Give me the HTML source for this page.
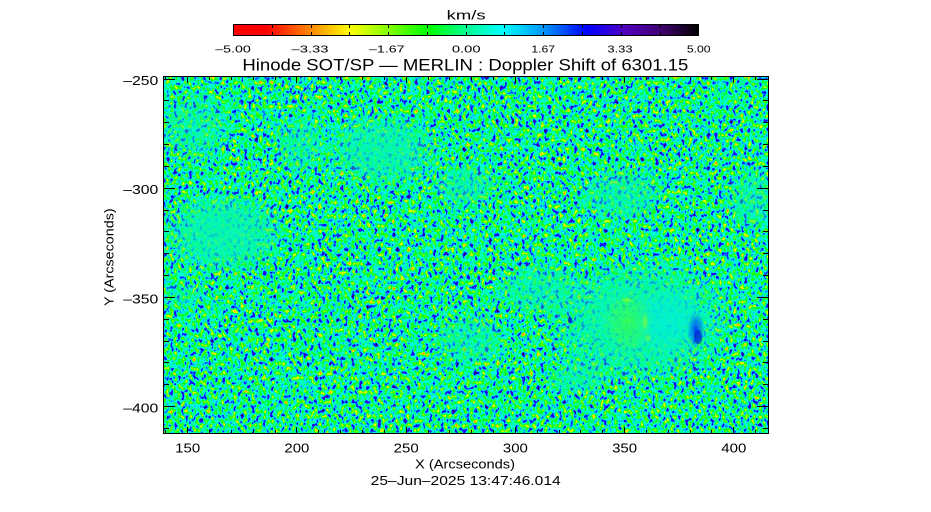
<!DOCTYPE html>
<html><head><meta charset="utf-8"><style>html,body{margin:0;padding:0;background:#fff}svg{display:block}</style></head>
<body>
<svg width="931" height="512" viewBox="0 0 931 512" xmlns="http://www.w3.org/2000/svg" font-family="'Liberation Sans', sans-serif">
<defs>
  <linearGradient id="cb" x1="0" x2="1" y1="0" y2="0">
    <stop offset="0" stop-color="#ff0000"/>
    <stop offset="0.07" stop-color="#ff0000"/>
    <stop offset="0.16" stop-color="#ff8000"/>
    <stop offset="0.25" stop-color="#ffff00"/>
    <stop offset="0.42" stop-color="#00ff00"/>
    <stop offset="0.50" stop-color="#00ff90"/>
    <stop offset="0.58" stop-color="#00ffff"/>
    <stop offset="0.67" stop-color="#0090ff"/>
    <stop offset="0.76" stop-color="#0000ff"/>
    <stop offset="0.84" stop-color="#5000c0"/>
    <stop offset="0.92" stop-color="#400070"/>
    <stop offset="1" stop-color="#000000"/>
  </linearGradient>
  <filter id="nz" filterUnits="userSpaceOnUse" x="163" y="76" width="606" height="358" color-interpolation-filters="sRGB">
    <feTurbulence type="fractalNoise" baseFrequency="0.27 0.21" numOctaves="2" seed="7" result="t"/>
    <feColorMatrix in="t" type="matrix" values="1.4 0 0 0 -0.19  1.4 0 0 0 -0.19  1.4 0 0 0 -0.19  0 0 0 0 1" result="g"/>
    <feComponentTransfer in="g">
      <feFuncR type="table" tableValues="1 1 1 .94 .745 .51 .235 0 0 0 0 0 0 0 0 0 0 .118 .314 .267 .094"/>
      <feFuncG type="table" tableValues=".39 .706 .9 1 1 1 1 1 1 1 1 1 1 .855 .612 .251 0 0 0 0 0"/>
      <feFuncB type="table" tableValues="0 0 0 0 0 0 0 0 .212 .424 .620 .784 .945 1 1 1 1 .906 .753 .518 .165"/>
      <feFuncA type="linear" slope="0" intercept="1"/>
    </feComponentTransfer>
  </filter>
  <radialGradient id="q">
    <stop offset="0" stop-color="#06f6b4" stop-opacity="1"/>
    <stop offset="0.5" stop-color="#06f6b4" stop-opacity="0.8"/>
    <stop offset="1" stop-color="#06f6b4" stop-opacity="0"/>
  </radialGradient>
  <radialGradient id="qc">
    <stop offset="0" stop-color="#00eedd" stop-opacity="1"/>
    <stop offset="0.6" stop-color="#00eedd" stop-opacity="0.7"/>
    <stop offset="1" stop-color="#00eedd" stop-opacity="0"/>
  </radialGradient>
  <radialGradient id="gq">
    <stop offset="0" stop-color="#50ff20" stop-opacity="1"/>
    <stop offset="0.6" stop-color="#50ff20" stop-opacity="0.5"/>
    <stop offset="1" stop-color="#50ff20" stop-opacity="0"/>
  </radialGradient>
  <radialGradient id="yq">
    <stop offset="0" stop-color="#c0ff00" stop-opacity="1"/>
    <stop offset="1" stop-color="#c0ff00" stop-opacity="0"/>
  </radialGradient>
  <radialGradient id="bq">
    <stop offset="0" stop-color="#0020ff" stop-opacity="1"/>
    <stop offset="0.6" stop-color="#0060ff" stop-opacity="0.6"/>
    <stop offset="1" stop-color="#0080ff" stop-opacity="0"/>
  </radialGradient>
  <clipPath id="pc"><rect x="163" y="76" width="606" height="358"/></clipPath>
</defs>

<rect width="931" height="512" fill="#fff"/>

<!-- colorbar -->
<text x="466.2" y="19.3" font-size="13" text-anchor="middle" textLength="39" lengthAdjust="spacingAndGlyphs">km/s</text>
<rect x="233.5" y="24.5" width="465" height="11" fill="url(#cb)" stroke="#000" stroke-width="1"/>
<path d="M272.5 25V28M311.5 25V28M349.5 25V28M388.5 25V28M427.5 25V28M466.5 25V28M504.5 25V28M543.5 25V28M582.5 25V28M621.5 25V28M660.5 25V28M272.5 35V32M311.5 35V32M349.5 35V32M388.5 35V32M427.5 35V32M466.5 35V32M504.5 35V32M543.5 35V32M582.5 35V32M621.5 35V32M660.5 35V32" stroke="#000" stroke-width="1" shape-rendering="crispEdges"/>
<g font-size="10.5" text-anchor="middle">
  <text x="233" y="52.4" textLength="35.5" lengthAdjust="spacingAndGlyphs">–5.00</text>
  <text x="310" y="52.4" textLength="37" lengthAdjust="spacingAndGlyphs">–3.33</text>
  <text x="386.8" y="52.4" textLength="35.5" lengthAdjust="spacingAndGlyphs">–1.67</text>
  <text x="466.2" y="52.4" textLength="28.7" lengthAdjust="spacingAndGlyphs">0.00</text>
  <text x="543.2" y="52.4" textLength="23.7" lengthAdjust="spacingAndGlyphs">1.67</text>
  <text x="620" y="52.4" textLength="25.3" lengthAdjust="spacingAndGlyphs">3.33</text>
  <text x="698.7" y="52.4" textLength="23.7" lengthAdjust="spacingAndGlyphs">5.00</text>
</g>
<text x="465.4" y="70.3" font-size="17" text-anchor="middle" textLength="446" lengthAdjust="spacingAndGlyphs">Hinode SOT/SP — MERLIN : Doppler Shift of 6301.15</text>

<!-- image -->
<g clip-path="url(#pc)">
  <rect x="163" y="76" width="606" height="358" fill="#00ff90" filter="url(#nz)"/>
  <ellipse cx="224" cy="233" rx="66" ry="44" fill="url(#q)" opacity="0.9"/>
  <ellipse cx="195" cy="128" rx="42" ry="38" fill="url(#q)" opacity="0.5"/>
  <ellipse cx="383" cy="150" rx="60" ry="40" fill="url(#q)" opacity="0.8"/>
  <ellipse cx="300" cy="145" rx="30" ry="32" fill="url(#q)" opacity="0.5"/>
  <ellipse cx="465" cy="186" rx="38" ry="24" fill="url(#q)" opacity="0.6"/>
  <ellipse cx="622" cy="194" rx="48" ry="30" fill="url(#q)" opacity="0.6"/>
  <ellipse cx="755" cy="200" rx="32" ry="34" fill="url(#q)" opacity="0.6"/>
  <ellipse cx="640" cy="322" rx="100" ry="66" fill="url(#q)" opacity="0.9"/>
  <ellipse cx="540" cy="290" rx="48" ry="30" fill="url(#q)" opacity="0.6"/>
  <ellipse cx="470" cy="340" rx="42" ry="30" fill="url(#q)" opacity="0.55"/>
  <ellipse cx="578" cy="378" rx="36" ry="20" fill="url(#q)" opacity="0.55"/>
  <ellipse cx="185" cy="295" rx="26" ry="16" fill="url(#q)" opacity="0.4"/>
  <!-- sunspot details -->
  <ellipse cx="668" cy="320" rx="40" ry="32" fill="url(#qc)" opacity="0.7"/>
  <ellipse cx="628" cy="322" rx="26" ry="32" fill="url(#gq)" opacity="0.55"/>
  <ellipse cx="627" cy="300" rx="7" ry="3" fill="url(#yq)" opacity="0.6"/>
  <ellipse cx="645" cy="322" rx="4" ry="10" fill="url(#yq)" opacity="0.5"/>
  <ellipse cx="648" cy="338" rx="4" ry="5" fill="url(#yq)" opacity="0.5"/>
  <ellipse cx="696" cy="330" rx="9" ry="19" fill="url(#bq)" opacity="0.85"/>
  <ellipse cx="698" cy="337" rx="4" ry="7" fill="#0010d0" opacity="0.6"/>
  <ellipse cx="570" cy="320" rx="2" ry="3.5" fill="#0000e0" opacity="0.8"/>
</g>

<!-- axes -->
<path d="M163.5 76.5H768.5V433.5H163.5Z" fill="none" stroke="#000" stroke-width="1" shape-rendering="crispEdges"/>
<path d="M165.5 434V430M187.5 434V427M209.5 434V430M231.5 434V430M253.5 434V430M275.5 434V430M296.5 434V427M318.5 434V430M340.5 434V430M362.5 434V430M384.5 434V430M406.5 434V427M428.5 434V430M449.5 434V430M471.5 434V430M493.5 434V430M515.5 434V427M537.5 434V430M559.5 434V430M580.5 434V430M602.5 434V430M624.5 434V427M646.5 434V430M668.5 434V430M690.5 434V430M711.5 434V430M733.5 434V427M755.5 434V430
M165.5 76V80M187.5 76V83M209.5 76V80M231.5 76V80M253.5 76V80M275.5 76V80M296.5 76V83M318.5 76V80M340.5 76V80M362.5 76V80M384.5 76V80M406.5 76V83M428.5 76V80M449.5 76V80M471.5 76V80M493.5 76V80M515.5 76V83M537.5 76V80M559.5 76V80M580.5 76V80M602.5 76V80M624.5 76V83M646.5 76V80M668.5 76V80M690.5 76V80M711.5 76V80M733.5 76V83M755.5 76V80
M163 79.5H175M163 100.5H169M163 122.5H169M163 144.5H169M163 166.5H169M163 188.5H175M163 210.5H169M163 231.5H169M163 253.5H169M163 275.5H169M163 297.5H175M163 319.5H169M163 341.5H169M163 362.5H169M163 384.5H169M163 406.5H175M163 428.5H169
M769 79.5H757M769 100.5H763M769 122.5H763M769 144.5H763M769 166.5H763M769 188.5H757M769 210.5H763M769 231.5H763M769 253.5H763M769 275.5H763M769 297.5H757M769 319.5H763M769 341.5H763M769 362.5H763M769 384.5H763M769 406.5H757M769 428.5H763" stroke="#000" stroke-width="1" fill="none" shape-rendering="crispEdges"/>

<!-- y tick labels -->
<g font-size="12.5" text-anchor="end">
  <text x="158.3" y="85" textLength="35" lengthAdjust="spacingAndGlyphs">–250</text>
  <text x="158.3" y="194" textLength="35" lengthAdjust="spacingAndGlyphs">–300</text>
  <text x="158.3" y="303.3" textLength="35" lengthAdjust="spacingAndGlyphs">–350</text>
  <text x="158.3" y="412.7" textLength="35" lengthAdjust="spacingAndGlyphs">–400</text>
</g>
<!-- x tick labels -->
<g font-size="12.5" text-anchor="middle">
  <text x="187.7" y="452.3" textLength="25" lengthAdjust="spacingAndGlyphs">150</text>
  <text x="296.9" y="452.3" textLength="25" lengthAdjust="spacingAndGlyphs">200</text>
  <text x="406.2" y="452.3" textLength="25" lengthAdjust="spacingAndGlyphs">250</text>
  <text x="515.4" y="452.3" textLength="25" lengthAdjust="spacingAndGlyphs">300</text>
  <text x="624.6" y="452.3" textLength="25" lengthAdjust="spacingAndGlyphs">350</text>
  <text x="733.8" y="452.3" textLength="25" lengthAdjust="spacingAndGlyphs">400</text>
</g>
<text x="465" y="468.3" font-size="12.5" text-anchor="middle" textLength="100" lengthAdjust="spacingAndGlyphs">X (Arcseconds)</text>
<text x="465.7" y="485" font-size="12.5" text-anchor="middle" textLength="190" lengthAdjust="spacingAndGlyphs">25–Jun–2025 13:47:46.014</text>
<text transform="translate(113.5,257.2) rotate(-90)" font-size="12.5" text-anchor="middle" textLength="97.7" lengthAdjust="spacingAndGlyphs">Y (Arcseconds)</text>
</svg>
</body></html>
